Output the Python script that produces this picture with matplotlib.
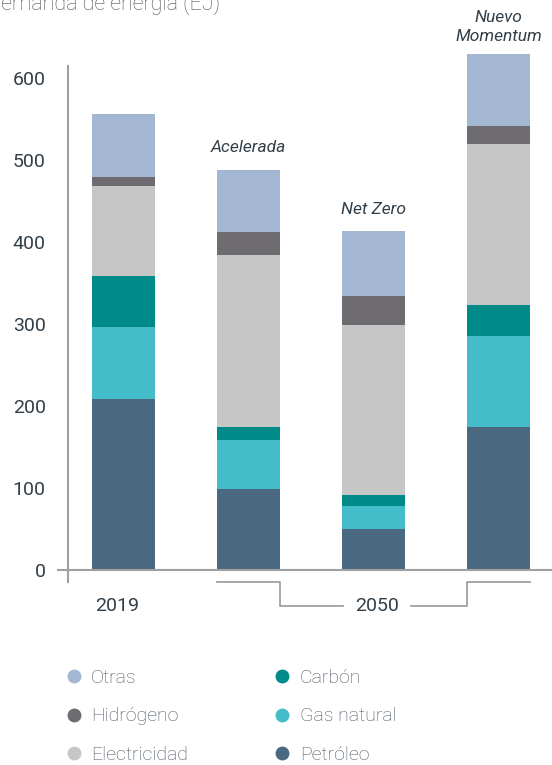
import matplotlib.pyplot as plt
from matplotlib.lines import Line2D
import numpy as np

plt.rcParams['font.family'] = ['Roboto', 'DejaVu Sans']

# Datos (EJ)
escenarios = ['2019', 'Acelerada', 'Net Zero', 'Nuevo\nMomentum']
fuentes = ['Petróleo', 'Gas natural', 'Carbón', 'Electricidad', 'Hidrógeno', 'Otras']
petroleo = [209, 99, 50, 174]
gas_natural = [87, 60, 28, 111]
carbon = [63, 15, 13, 38]
electricidad = [109, 210, 208, 197]
hidrogeno = [11, 28, 35, 21]
otras = [77, 76, 79, 88]
colores = ['#4A6880', '#44BCC9', '#008B89', '#C6C6C6', '#6E6C70', '#A3B7D3']
yticks = [0, 100, 200, 300, 400, 500, 600]

series = [petroleo, gas_natural, carbon, electricidad, hidrogeno, otras]
x = np.arange(len(escenarios))
w = 0.504
texto = '#333F48'
gris = '#A0A0A0'

fig = plt.figure(figsize=(5.52, 7.65), dpi=100)
ax = fig.add_axes([0, 0, 1, 1])
ax.set_xlim(-0.988, 3.428)
ax.set_ylim(-237.8, 695.1)

base = np.zeros(len(x))
handles = {}
for nombre, vals, c in zip(fuentes, series, colores):
    ax.bar(x, vals, w, bottom=base, color=c, linewidth=0, zorder=2)
    base += np.array(vals)
    handles[nombre] = Line2D([], [], marker='o', linestyle='', markersize=10,
                             markerfacecolor=c, markeredgewidth=0)

# Ejes
for s in ['top', 'right', 'bottom']:
    ax.spines[s].set_visible(False)
ax.spines['left'].set_position(('data', -0.444))
ax.spines['left'].set_bounds(-14.6, 614.6)
ax.spines['left'].set_color(gris)
ax.spines['left'].set_linewidth(1.5)
ax.set_xticks([])
ax.set_yticks(yticks)
ax.tick_params(axis='y', length=0, pad=16, labelsize=14, labelcolor=texto)
ax.axhline(0, xmin=(-0.524 + 0.988) / 4.416, xmax=1, color=gris, lw=1.5, zorder=3)

# Etiquetas de escenarios
for i in range(1, len(escenarios)):
    dy = 33 if '\n' in escenarios[i] else 27
    ax.text(x[i], base[i] + dy, escenarios[i], ha='center', va='center',
            fontsize=12.5, style='italic', color=texto, linespacing=1.38)

# Corchete 2050
y1, y2 = -14.6, -43.9
lx, rx = x[1] + w / 2, x[3] - w / 2
ax.plot([x[1] - w / 2, lx, lx, 1.756], [y1, y1, y2, y2], color=gris, lw=1.3, clip_on=False)
ax.plot([2.30, rx, rx, x[3] + w / 2], [y2, y2, y1, y1], color=gris, lw=1.3, clip_on=False)
ax.text(2.028, y2, '2050', ha='center', va='center', fontsize=14, color=texto)
ax.text(x[0] - 0.05, y2, escenarios[0], ha='center', va='center', fontsize=14, color=texto)

ax.text(0.772, 683, 'Demanda de energía (EJ)', ha='right', va='baseline',
        fontsize=15.5, color='#555555', fontweight='light')

orden = ['Otras', 'Hidrógeno', 'Electricidad', 'Carbón', 'Gas natural', 'Petróleo']
leg = fig.legend([handles[n] for n in orden], orden, ncol=2, frameon=False,
                 loc='upper left', bbox_to_anchor=(64 / 552, 1 - 669 / 765),
                 borderaxespad=0, fontsize=14, handlelength=1.0, handletextpad=0.4,
                 columnspacing=4.35, labelspacing=1.05, borderpad=0)
for t in leg.get_texts():
    t.set_color('#4A5560')
    t.set_fontweight('light')

fig.savefig('out.png', dpi=100)
